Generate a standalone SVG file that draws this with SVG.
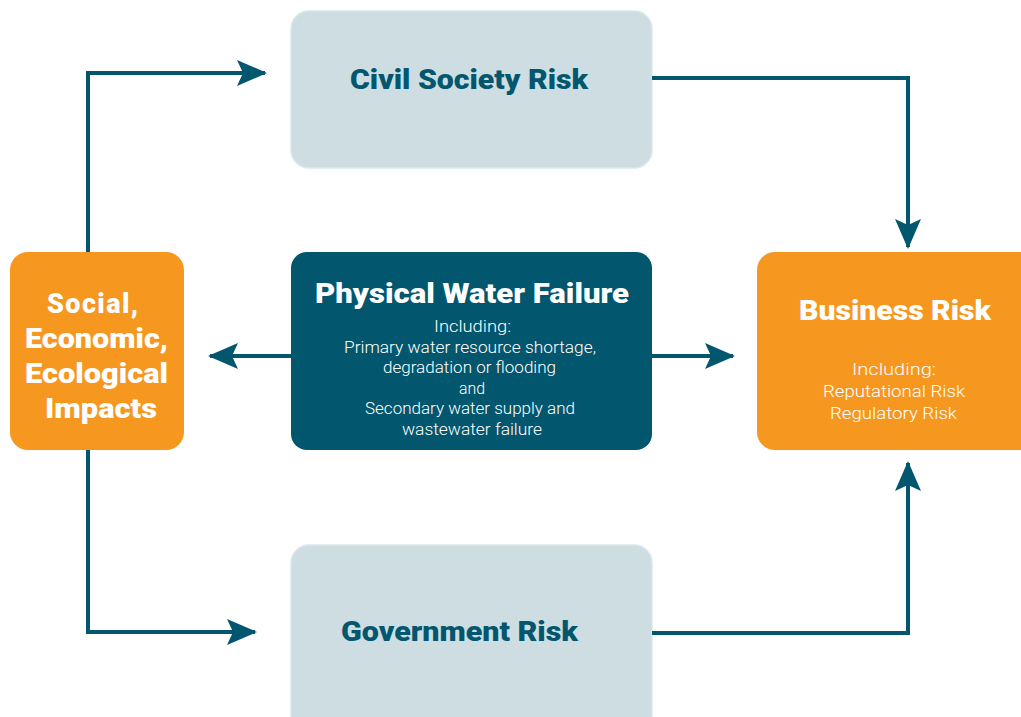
<svg xmlns="http://www.w3.org/2000/svg" width="1021" height="717" viewBox="0 0 1021 717">
<style>
.conn{fill:none;stroke:#02566e;stroke-width:4}
.lt{fill:#cddde2;stroke:#dbe7ea;stroke-width:1.5}
.or{fill:#f6971f}
.dk{fill:#02566e}
.h{font-family:Roboto,"Liberation Sans",sans-serif;font-weight:900;text-anchor:middle}
.s{font-family:Roboto,"Liberation Sans",sans-serif;font-weight:300;text-anchor:middle;font-size:17px;fill:#ffffff}
</style>
<defs>
<marker id="ah" viewBox="0 0 30 26" refX="28" refY="13" markerWidth="30" markerHeight="26" markerUnits="userSpaceOnUse" orient="auto">
<path d="M0,0 L30,13 L0,26 L6,13 Z" fill="#02566e"/>
</marker>
</defs>
<g id="civil"><rect class="lt" x="291" y="11" width="361" height="157" rx="18"/><text class="h" x="469" y="89" font-size="27" fill="#02566e" textLength="238" lengthAdjust="spacingAndGlyphs">Civil Society Risk</text></g>
<g id="government"><rect class="lt" x="291" y="545" width="361" height="190" rx="18"/><text class="h" x="459.5" y="641" font-size="27" fill="#02566e" textLength="237" lengthAdjust="spacingAndGlyphs">Government Risk</text></g>
<g id="social"><rect class="or" x="10" y="252" width="174" height="198" rx="18"/>
<text class="h" font-size="27" fill="#fff" lengthAdjust="spacingAndGlyphs"><tspan x="92.5" y="313" textLength="91">Social,</tspan></text>
<text class="h" font-size="27" fill="#fff" x="96.5" y="348" textLength="143" lengthAdjust="spacingAndGlyphs">Economic,</text>
<text class="h" font-size="27" fill="#fff" x="96.5" y="383" textLength="143" lengthAdjust="spacingAndGlyphs">Ecological</text>
<text class="h" font-size="27" fill="#fff" x="101" y="418" textLength="112" lengthAdjust="spacingAndGlyphs">Impacts</text></g>
<g id="physical"><rect class="dk" x="291" y="252" width="361" height="198" rx="16"/>
<text class="h" x="472" y="303" font-size="27" fill="#fff" textLength="314" lengthAdjust="spacingAndGlyphs">Physical Water Failure</text>
<text class="s" x="472.5" y="332" textLength="77" lengthAdjust="spacingAndGlyphs">Including:</text>
<text class="s" x="470" y="353" textLength="252" lengthAdjust="spacingAndGlyphs">Primary water resource shortage,</text>
<text class="s" x="469.5" y="373" textLength="173" lengthAdjust="spacingAndGlyphs">degradation or flooding</text>
<text class="s" x="472" y="394" textLength="26" lengthAdjust="spacingAndGlyphs">and</text>
<text class="s" x="470" y="414" textLength="210" lengthAdjust="spacingAndGlyphs">Secondary water supply and</text>
<text class="s" x="472" y="435" textLength="140" lengthAdjust="spacingAndGlyphs">wastewater failure</text></g>
<g id="business"><rect class="or" x="757" y="252" width="290" height="198" rx="18"/>
<text class="h" x="895" y="320" font-size="28" fill="#fff" textLength="192" lengthAdjust="spacingAndGlyphs">Business Risk</text>
<text class="s" x="894" y="375" font-size="18" textLength="84" lengthAdjust="spacingAndGlyphs">Including:</text>
<text class="s" x="894" y="397" font-size="18" textLength="142" lengthAdjust="spacingAndGlyphs">Reputational Risk</text>
<text class="s" x="893.5" y="419" font-size="18" textLength="127" lengthAdjust="spacingAndGlyphs">Regulatory Risk</text></g>
<g id="connectors">
<path class="conn" d="M88,252 V73 H265" marker-end="url(#ah)"/>
<path class="conn" d="M652,78 H908 V247" marker-end="url(#ah)"/>
<path class="conn" d="M291,356 H210" marker-end="url(#ah)"/>
<path class="conn" d="M652,356 H733" marker-end="url(#ah)"/>
<path class="conn" d="M88,450 V632 H255" marker-end="url(#ah)"/>
<path class="conn" d="M652,633 H908 V463" marker-end="url(#ah)"/>
</g>
</svg>
